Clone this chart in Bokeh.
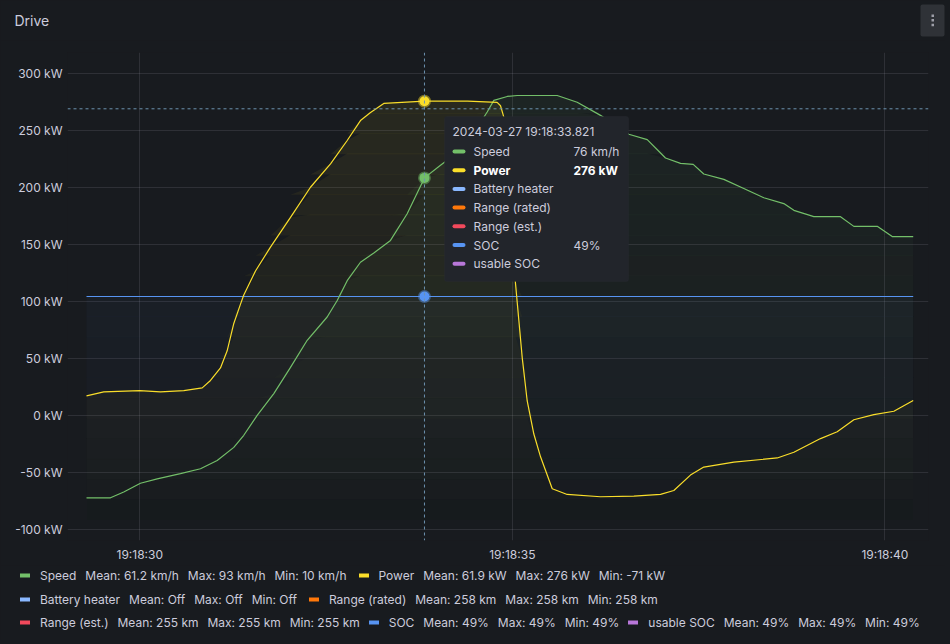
import numpy as np
import pandas as pd
from bokeh.plotting import figure
from bokeh.layouts import column
from bokeh.models import (Range1d, FixedTicker, PrintfTickFormatter, DatetimeTickFormatter,
                          Span, Legend, LegendItem, BoxAnnotation, Label)
from bokeh.embed import file_html
from bokeh.resources import INLINE

# ---------------- data ----------------
BASE = "2024-03-27 19:18:30"

# seconds after 19:18:30
power_t = [-0.715, -0.483, 0.0, 0.278, 0.591, 0.838, 0.949, 1.083, 1.173, 1.262, 1.352, 1.396,
           1.553, 1.754, 2.023, 2.291, 2.560, 2.784, 2.962, 3.097, 3.275, 3.821, 4.400, 4.797,
           4.842, 4.886, 5.043, 5.133, 5.200, 5.289, 5.379, 5.536, 5.737, 6.184, 6.631, 6.989,
           7.168, 7.391, 7.570, 7.973, 8.556, 8.779, 9.137, 9.361, 9.584, 9.852, 10.121, 10.381]
power_kw = [17.5, 21, 22, 21, 22, 24.5, 31, 42, 57, 81, 98, 106,
            127, 148, 174, 200.5, 221, 241.5, 259, 266, 274, 276, 276, 275,
            272, 262, 116, 51, 13, -16, -36, -64, -69, -71, -70.5, -69,
            -65.5, -52, -45, -40.7, -37, -32, -20, -14, -3.5, 1, 4, 13.4]

speed_t = [-0.715, -0.393, -0.215, 0.009, 0.234, 0.546, 0.815, 1.039, 1.262, 1.396, 1.576,
           1.799, 2.023, 2.247, 2.515, 2.650, 2.784, 2.962, 3.141, 3.365, 3.589, 3.821, 4.036,
           4.305, 4.506, 4.663, 4.752, 4.932, 5.066, 5.603, 5.871, 6.184, 6.564, 6.811, 7.056,
           7.258, 7.428, 7.570, 7.839, 8.107, 8.376, 8.644, 8.779, 9.047, 9.405, 9.584, 9.898,
           10.099, 10.381]
speed_kmh = [10.0, 10.0, 11.2, 13.0, 13.9, 15.0, 16.0, 17.7, 20.4, 22.9, 27.0,
             31.5, 36.9, 42.5, 47.3, 50.7, 54.8, 58.6, 60.5, 63.1, 68.6, 76.0, 78.6,
             81.7, 85.8, 89.6, 92.0, 92.8, 93.0, 93.0, 91.6, 88.9, 85.0, 83.9, 80.1,
             79.0, 78.8, 76.8, 75.7, 73.8, 71.9, 70.7, 69.3, 68.0, 68.0, 66.0, 66.0,
             63.9, 63.9]

soc_t = [-0.715, 10.381]
soc_pct = [49, 49]

series_names = ["Speed", "Power", "Battery heater", "Range (rated)", "Range (est.)", "SOC", "usable SOC"]
series_colors = ["#73bf69", "#fade2a", "#8ab8ff", "#ff780a", "#f2495c", "#5794f2", "#b877d9"]
stat_mean = ["61.2 km/h", "61.9 kW", "Off", "258 km", "255 km", "49%", "49%"]
stat_max = ["93 km/h", "276 kW", "Off", "258 km", "255 km", "49%", "49%"]
stat_min = ["10 km/h", "-71 kW", "Off", "258 km", "255 km", "49%", "49%"]
legend_rows = [[0, 1], [2, 3], [4, 5, 6]]

hover_time = 3.821
hover_title = "2024-03-27 19:18:33.821"
hover_speed = 76
hover_power = 276
hover_soc = 49
hover_texts = ["76 km/h", "276 kW", "", "", "", "49%", ""]
crosshair_kw = 269.3

y_ticks = [-100, -50, 0, 50, 100, 150, 200, 250, 300]
x_tick_labels = ["19:18:30", "19:18:35", "19:18:40"]

kw_range = (-109.4, 318.7)
speed_range = (1.19, 101.87)
soc_range = (0, 98)
t_range = (-0.970, 10.586)

# ---------------- helpers ----------------
base_ms = pd.Timestamp(BASE).value / 1e6
def tms(seconds):
    return base_ms + np.asarray(seconds, dtype=float) * 1000.0

FONT = "Inter"
TXT = "#ccccdc"
BG = "#181b1f"
W = 945
FRAME_H = 488

def no_align(f):
    try:
        f.frame_align = False
    except Exception:
        pass

def sbox(fig, l, r, b, t, **kw):
    fig.add_layout(BoxAnnotation(left=l, right=r, bottom=b, top=t, left_units="screen",
                                 right_units="screen", bottom_units="screen", top_units="screen",
                                 fill_alpha=1, **kw))

def blank_fig(h):
    f = figure(width=W, height=h, x_range=Range1d(0, 1), y_range=Range1d(0, 1),
               output_backend="svg", toolbar_location=None,
               x_axis_location=None, y_axis_location=None,
               min_border_left=0, min_border_right=0, min_border_top=0, min_border_bottom=0)
    f.background_fill_color = BG
    f.border_fill_color = BG
    f.outline_line_color = None
    for g in f.grid:
        g.visible = False
    no_align(f)
    return f

# ---------------- header (title + menu) ----------------
head = blank_fig(40)
head.add_layout(Label(x=14, y=20, x_units="screen", y_units="screen", text="Drive",
                      text_font=FONT, text_font_size="14px", text_color=TXT,
                      text_baseline="middle", text_align="left"))
sbox(head, 920, 944, 4, 36, fill_color="#2f3237", line_color=None, border_radius=2)
for yb in (14.3, 19.0, 23.5):
    sbox(head, 931, 933.5, yb, yb + 2.4, fill_color="#9d9ea8", line_color=None)

# ---------------- main plot ----------------
p = figure(width=W, height=525, x_axis_type="datetime",
           x_range=Range1d(float(tms(t_range[0])), float(tms(t_range[1]))),
           y_range=Range1d(*kw_range),
           output_backend="svg", toolbar_location=None,
           min_border_left=67, min_border_right=17, min_border_top=12, min_border_bottom=25)
no_align(p)
p.extra_y_ranges = {"speed": Range1d(*speed_range), "soc": Range1d(*soc_range)}
p.background_fill_color = BG
p.border_fill_color = BG
p.outline_line_color = None

x_ticks = [float(pd.Timestamp(BASE[:11] + s).value / 1e6) for s in x_tick_labels]
p.xaxis.ticker = FixedTicker(ticks=x_ticks)
p.xaxis.formatter = DatetimeTickFormatter(seconds="%H:%M:%S", milliseconds="%H:%M:%S",
                                          minsec="%H:%M:%S", minutes="%H:%M:%S",
                                          hourmin="%H:%M:%S", hours="%H:%M:%S")
p.yaxis.ticker = FixedTicker(ticks=y_ticks)
p.yaxis.formatter = PrintfTickFormatter(format="%d kW")
for ax in (p.xaxis[0], p.yaxis[0]):
    ax.axis_line_color = None
    ax.major_tick_line_color = None
    ax.minor_tick_line_color = None
    ax.major_tick_out = 0
    ax.major_tick_in = 0
    ax.minor_tick_out = 0
    ax.minor_tick_in = 0
    ax.major_label_text_color = TXT
    ax.major_label_text_font = FONT
    ax.major_label_text_font_size = "12px"
p.xaxis.major_label_standoff = 6
p.yaxis.major_label_standoff = 5
for g in (p.xgrid[0], p.ygrid[0]):
    g.grid_line_color = TXT
    g.grid_line_alpha = 0.12
    g.grid_line_width = 1

# gradient-opacity fills: horizontal bands (slightly overlapping to avoid seams),
# more opaque towards the top of each scale
def gradient_fill(t, vals, rng, color, amax, range_name=None, nb=24):
    vals = np.asarray(vals, dtype=float)
    edges = np.linspace(rng[0], rng[1], nb + 1)
    ov = (rng[1] - rng[0]) / FRAME_H * 0.6
    kw = {} if range_name is None else {"y_range_name": range_name}
    for lo, hi in zip(edges[:-1], edges[1:]):
        if vals.max() <= lo:
            continue
        a = amax * ((lo + hi) / 2 - rng[0]) / (rng[1] - rng[0])
        p.varea(x=tms(t), y1=lo, y2=np.clip(vals, lo, hi + ov), fill_color=color,
                fill_alpha=round(a, 4), **kw)

gradient_fill(soc_t, soc_pct, soc_range, series_colors[5], 0.07, "soc")
gradient_fill(speed_t, speed_kmh, speed_range, series_colors[0], 0.07, "speed")
gradient_fill(power_t, power_kw, kw_range, series_colors[1], 0.08)

# lines
p.line(tms(soc_t), soc_pct, line_color=series_colors[5], line_width=1.2, y_range_name="soc")
p.line(tms(speed_t), speed_kmh, line_color=series_colors[0], line_width=1.2, y_range_name="speed")
p.line(tms(power_t), power_kw, line_color=series_colors[1], line_width=1.2)

# crosshair
cross_col = "#6d93b0"
p.add_layout(Span(location=float(tms(hover_time)), dimension="height", line_color=cross_col,
                  line_dash="3 3", line_width=1))
p.add_layout(Span(location=crosshair_kw, dimension="width", line_color=cross_col,
                  line_dash="3 3", line_width=1))

# hover points
hx = [float(tms(hover_time))]
p.scatter(hx, [hover_soc], size=10, fill_color=series_colors[5], line_color=series_colors[5],
          line_alpha=0.45, line_width=3, y_range_name="soc")
p.scatter(hx, [hover_speed], size=10, fill_color=series_colors[0], line_color=series_colors[0],
          line_alpha=0.45, line_width=3, y_range_name="speed")
p.scatter(hx, [hover_power], size=10, fill_color=series_colors[1], line_color=series_colors[1],
          line_alpha=0.45, line_width=3)

# tooltip (screen units relative to the frame's bottom-left corner)
sbox(p, 377, 561, 259, 424, fill_color="#22252b", line_color="#2c2f35", line_width=1, border_radius=2)
p.add_layout(Label(x=385, y=409, x_units="screen", y_units="screen", text=hover_title,
                   text_font=FONT, text_font_size="12px", text_color=TXT,
                   text_baseline="middle"))
row_y = [389, 370.3, 351.6, 332.9, 314.2, 295.5, 276.8]
for i, yc in enumerate(row_y):
    sbox(p, 385, 398, yc - 2, yc + 2, fill_color=series_colors[i], line_color=None, border_radius=2)
    bold = series_names[i] == "Power"
    col = "#ffffff" if bold else TXT
    style = "bold" if bold else "normal"
    p.add_layout(Label(x=406, y=yc, x_units="screen", y_units="screen", text=series_names[i],
                       text_font=FONT, text_font_size="12px", text_color=col,
                       text_font_style=style, text_baseline="middle"))
    if hover_texts[i]:
        p.add_layout(Label(x=506, y=yc, x_units="screen", y_units="screen", text=hover_texts[i],
                           text_font=FONT, text_font_size="12px", text_color=col,
                           text_font_style=style, text_baseline="middle"))

# ---------------- legend ----------------
lf = blank_fig(75)
NB = "\u00a0\u00a0\u2009"
dummies = [lf.line([-10, -9], [-10, -9], line_color=c, line_width=4, line_cap="round")
           for c in series_colors]
row_bottoms = [57, 33, 10]
row_spacing = [12, 12, 9]
for row, vy, sp in zip(legend_rows, row_bottoms, row_spacing):
    items = []
    for i in row:
        lab = (series_names[i] + NB + "Mean: " + stat_mean[i] + NB + "Max: " + stat_max[i]
               + NB + "Min: " + stat_min[i])
        items.append(LegendItem(label=lab, renderers=[dummies[i]]))
    leg = Legend(items=items, location=(20, vy), orientation="horizontal",
                 background_fill_alpha=0, border_line_color=None,
                 label_text_font=FONT, label_text_font_size="12px", label_text_color=TXT,
                 glyph_width=10, glyph_height=16, label_height=16, label_standoff=10,
                 spacing=sp, padding=0, margin=0)
    lf.add_layout(leg)

layout = column(head, p, lf, spacing=0)

html = file_html(layout, INLINE)
html = html.replace("<head>", "<head><style>body{background:#181b1f;}</style>", 1)
open("out.html", "w").write(html)
